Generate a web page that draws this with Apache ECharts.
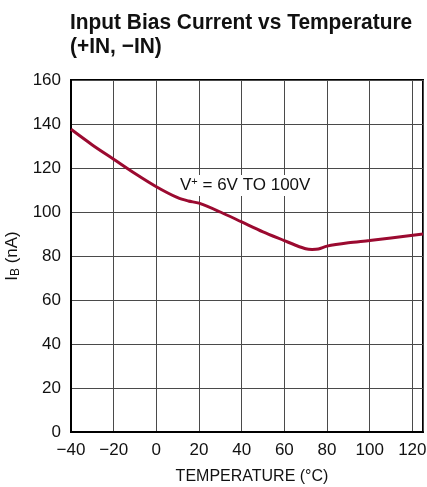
<!DOCTYPE html>
<html><head><meta charset="utf-8">
<script src="https://cdn.jsdelivr.net/npm/echarts@6/dist/echarts.min.js"></script>
<style>html,body{margin:0;padding:0;background:#fff}#c{width:427px;height:487px}</style>
</head><body><div id="c"></div>
<script>
const temps = [-40,-30,-20,-10,0,10,15,20,30,40,50,60,65,70,73,76,80,90,100,110,125];
const ib = [137.6,130.5,124,117.5,111.5,106.5,105,104,100,95.5,91,87,85,83.3,83,83.2,84.5,86,87,88.2,90];
const xTicks = [-40,-20,0,20,40,60,80,100,120];
const yTicks = [0,20,40,60,80,100,120,140,160];
const titleLines = ['Input Bias Current vs Temperature', '(+IN, \u2212IN)'];
const FONT = '"Liberation Sans",Arial,sans-serif';
const fmt = v => (v < 0 ? '\u2212' + Math.abs(v) : String(v));
const chart = echarts.init(document.getElementById('c'), null, {renderer:'canvas'});
chart.setOption({
  animation:false,
  grid:{left:71, top:80, width:352, height:352, containLabel:false, outerBoundsMode:'none',
        show:true, borderColor:'#000', borderWidth:2, backgroundColor:'transparent'},
  xAxis:{
    type:'value', min:-40, max:125, interval:20,
    axisLine:{show:true, onZero:false, lineStyle:{color:'#000', width:2}},
    axisTick:{show:false},
    splitLine:{show:true, lineStyle:{color:'#4a4a4a', width:1}},
    axisLabel:{fontFamily:FONT, fontSize:17, color:'#111', margin:10,
      formatter: v => xTicks.includes(v) ? fmt(v) : ''},
    name:'TEMPERATURE (\u00B0C)', nameLocation:'middle', nameGap:37,
    nameTextStyle:{fontFamily:FONT, fontSize:16, color:'#111', padding:[0,0,0,10]}
  },
  yAxis:{
    type:'value', min:0, max:160, interval:20,
    axisLine:{show:true, onZero:false, lineStyle:{color:'#000', width:2}},
    axisTick:{show:false},
    splitLine:{show:true, lineStyle:{color:'#4a4a4a', width:1}},
    axisLabel:{fontFamily:FONT, fontSize:17, color:'#111', margin:10,
      formatter: v => yTicks.includes(v) ? fmt(v) : ''},
    name:'{a|I}{b|B}{a| (nA)}', nameLocation:'middle', nameGap:43, nameRotate:90,
    nameTextStyle:{rich:{
      a:{fontFamily:FONT, fontSize:17, color:'#111'},
      b:{fontFamily:FONT, fontSize:12, color:'#111', verticalAlign:'bottom', padding:[6,0,0,0]}
    }}
  },
  graphic:[
    {type:'text', x:70, y:12, scaleX:0.95, z:10,
     style:{text:titleLines[0], font:'bold 22px "Liberation Sans",Arial,sans-serif', fill:'#111', textVerticalAlign:'top'}},
    {type:'text', x:70, y:36, scaleX:0.95, z:10,
     style:{text:titleLines[1], font:'bold 22px "Liberation Sans",Arial,sans-serif', fill:'#111', textVerticalAlign:'top'}},
    {type:'text', left:178, top:175, z:10,
     style:{
      text:'{a|V}{s|+}{a| = 6V TO 100V}',
      backgroundColor:'#fff', padding:[1,2,1,2],
      rich:{
        a:{fontFamily:FONT, fontSize:17, fill:'#111', color:'#111'},
        s:{fontFamily:FONT, fontSize:11, fill:'#111', color:'#111', verticalAlign:'top', padding:[0,0,8,0]}
      }
    }}
  ],
  series:[{
    type:'line', data: temps.map((t,i)=>[t, ib[i]]), smooth:0.3, showSymbol:false,
    lineStyle:{color:'#9b0a30', width:3}, clip:true
  }]
});
</script></body></html>
